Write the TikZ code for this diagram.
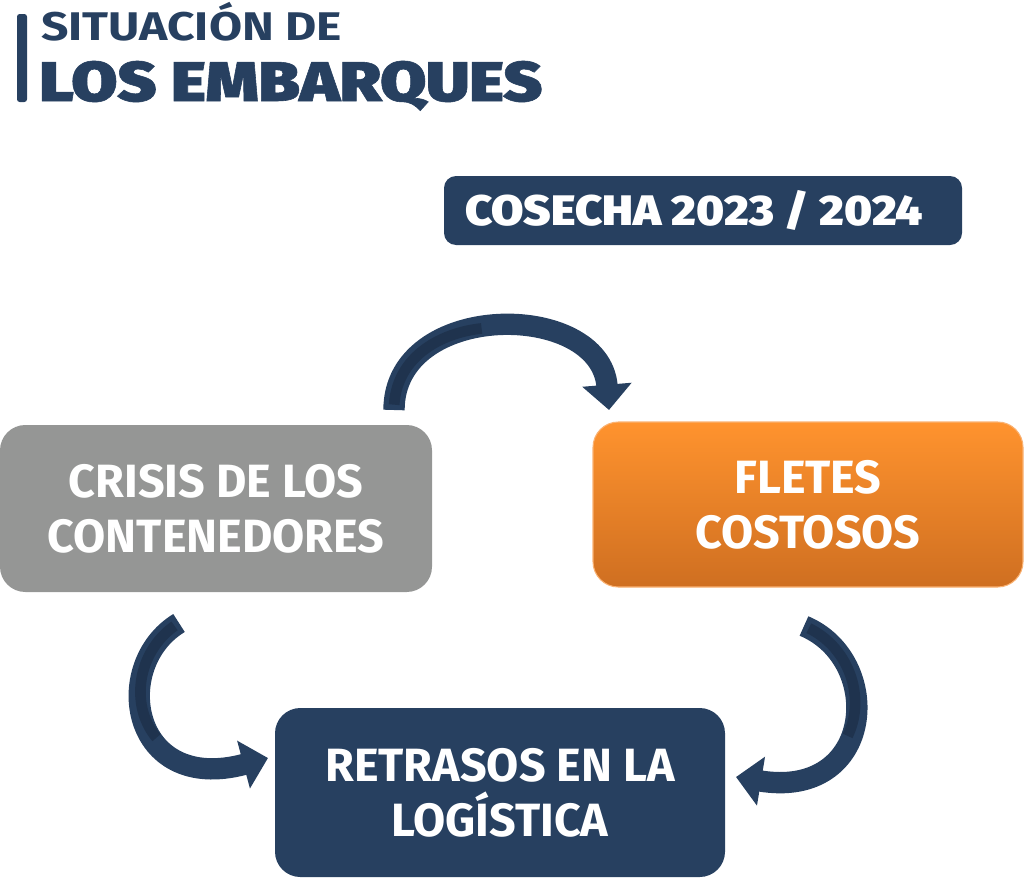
\documentclass[tikz,border=0pt]{standalone}
\usepackage{fontspec}
\usetikzlibrary{arrows.meta}
\setmainfont{Fira Sans}
\newfontfamily\boxfont{Fira Sans}
\newfontfamily\widefont{Fira Sans}[FakeStretch=1.2]
\IfFontExistsTF{Fira Sans Black}
  {\newfontfamily\heavyfont{Fira Sans Black}[FakeStretch=1.1]
   \newfontfamily\bigfont{Fira Sans Black}[FakeStretch=1.19,FakeBold=1]}
  {\newfontfamily\heavyfont{Fira Sans}[UprightFont=* Bold,FakeBold=2,FakeStretch=1.1]
   \newfontfamily\bigfont{Fira Sans}[UprightFont=* Bold,FakeBold=3,FakeStretch=1.19]}
\definecolor{navy}{RGB}{39,64,96}
\definecolor{navydark}{RGB}{31,51,78}
\definecolor{boxgray}{RGB}{149,150,149}
\definecolor{orangetop}{RGB}{255,147,46}
\definecolor{orangebot}{RGB}{207,111,33}
\definecolor{orangeedge}{RGB}{250,178,115}
\tikzset{
  stepbox/.style={rounded corners=19pt, text=white, align=center, inner sep=0pt,
    font=\boxfont\bfseries\fontsize{35}{41}\selectfont},
  fatarrow/.style={draw=navy, line width=16pt, -{Triangle[width=36pt,length=19pt]}},
  arrowshade/.style={draw=navydark, line width=8pt, dash pattern=on 0pt off 4pt on 95pt off 2000pt},
  titletext/.style={anchor=base west, inner sep=0pt, text=navy}
}
\begin{document}
\begin{tikzpicture}[x=0.75pt,y=-0.75pt]
\useasboundingbox (0,0) rectangle (1024,878);
% title
\fill[navy,rounded corners=2pt] (17,14) rectangle (27,102);
\node[titletext, font=\widefont\bfseries\fontsize{30}{30}\selectfont] (tsmall) at (41,40) {SITUACIÓN DE};
\node[titletext, font=\bigfont\fontsize{42}{42}\selectfont] (tbig) at (39,101) {LOS EMBARQUES};
% boxes
\node[stepbox, fill=navy, rounded corners=9pt, minimum width=388.5pt, minimum height=51.75pt] (cosecha) at (703,210.5) {};
\node[text=white, inner sep=0pt, font=\heavyfont\fontsize{32}{32}\selectfont] (cosechatext) at (694,210.5) {COSECHA 2023 / 2024};
\node[stepbox, fill=boxgray, minimum width=324pt, minimum height=125.25pt] (crisis) at (216,508.5)
  {CRISIS DE LOS\\CONTENEDORES};
\node[stepbox, top color=orangetop, bottom color=orangebot, draw=orangeedge, line width=0.8pt,
  minimum width=322.5pt, minimum height=123.75pt] (fletes) at (808,504.5) {FLETES\\COSTOSOS};
\node[stepbox, fill=navy, minimum width=337.5pt, minimum height=126.75pt] (retrasos) at (500,792.5)
  {RETRASOS EN LA\\LOGÍSTICA};
% arrow ends
\coordinate (a1) at (394,410);
\coordinate (b1) at (609,410);
\coordinate (a2) at (804,626);
\coordinate (b2) at (736,777);
\coordinate (a3) at (179,623);
\coordinate (b3) at (268,758);
% arrows
\draw[fatarrow] (a1) .. controls (394,300) and (600,300) .. (b1);
\draw[arrowshade] (a1) .. controls (394,300) and (600,300) .. (b1);
\draw[fatarrow] (a2) .. controls (885,660) and (875,800) .. (b2);
\draw[arrowshade] (a2) .. controls (885,660) and (875,800) .. (b2);
\draw[fatarrow] (a3) .. controls (110,665) and (130,795) .. (b3);
\draw[arrowshade] (a3) .. controls (110,665) and (130,795) .. (b3);
\end{tikzpicture}
\end{document}
